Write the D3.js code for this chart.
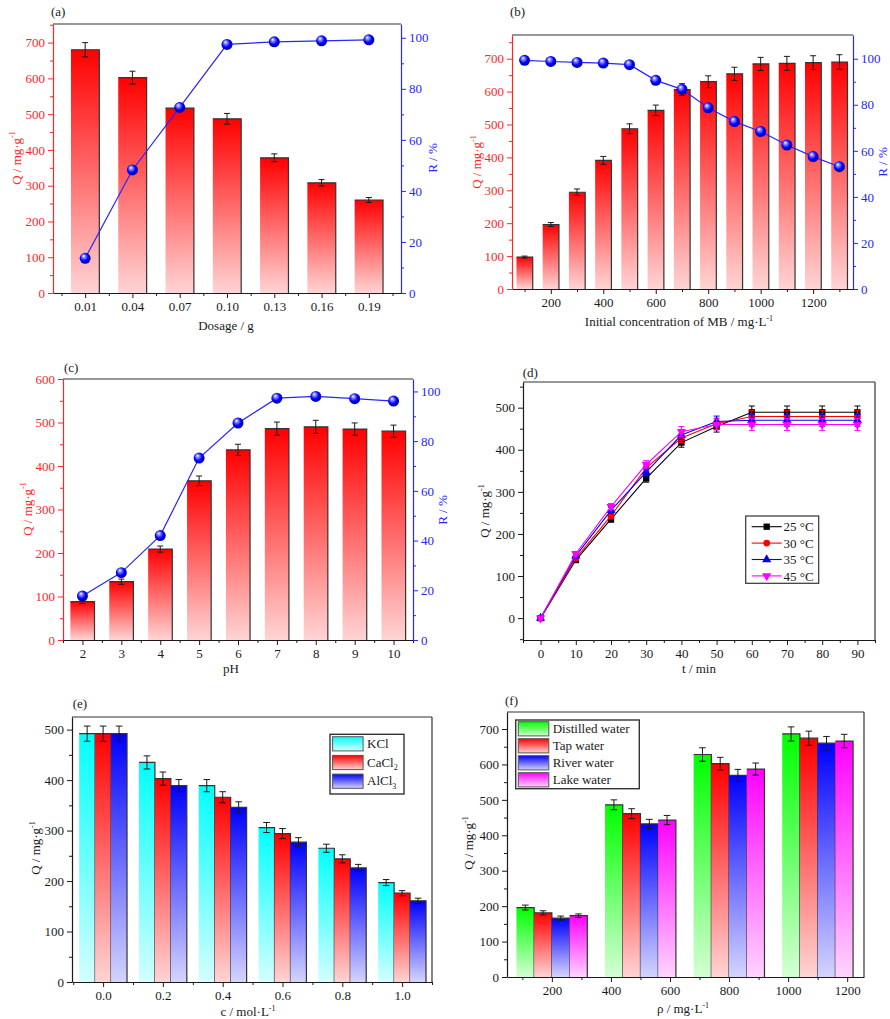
<!DOCTYPE html>
<html>
<head>
<meta charset="utf-8">
<script src="https://cdn.jsdelivr.net/npm/d3@7"></script>
<style>
  body { margin: 0; background: #fff; }
</style>
</head>
<body>
<svg id="fig" width="890" height="1019"></svg>
<script>
/* DATA */
// (a) effect of dosage
const dosage = ["0.01", "0.04", "0.07", "0.10", "0.13", "0.16", "0.19"];
const dosageQ = [680, 602, 517, 487, 378, 308, 260];
const dosageQErr = [20, 18, 8, 15, 11, 9, 7];
const dosageR = [13.6, 48.2, 72.7, 97.4, 98.4, 98.8, 99.2];

// (b) initial concentration of MB
const conc = [100, 200, 300, 400, 500, 600, 700, 800, 900, 1000, 1100, 1200, 1300];
const concQ = [97, 196, 294, 391, 487, 543, 606, 630, 654, 684, 686, 688, 690];
const concQErr = [3, 6, 10, 12, 15, 16, 18, 18, 20, 20, 21, 21, 22];
const concR = [99.3, 98.8, 98.4, 98.1, 97.4, 90.6, 86.7, 78.7, 72.7, 68.4, 62.5, 57.5, 53.1];

// (c) pH
const pH = [2, 3, 4, 5, 6, 7, 8, 9, 10];
const pHQ = [88, 134, 209, 366, 437, 486, 490, 485, 480];
const pHQErr = [4, 6, 7, 11, 13, 15, 15, 14, 14];
const pHR = [17.7, 27.1, 42.0, 73.2, 87.3, 97.3, 98.0, 97.1, 96.1];

// (d) contact time at four temperatures
const time = [0, 10, 20, 30, 40, 50, 60, 70, 80, 90];
const temps = ["25 °C", "30 °C", "35 °C", "45 °C"];
const q25 = [0, 138, 235, 332, 417, 455, 489, 489, 489, 489];
const q30 = [0, 142, 243, 357, 428, 462, 479, 479, 479, 479];
const q35 = [0, 148, 256, 347, 435, 467, 470, 470, 470, 470];
const q45 = [0, 153, 265, 365, 443, 460, 460, 460, 460, 460];
const e25 = [2, 5, 7, 9, 11, 13, 15, 15, 15, 15];
const e30 = [2, 5, 7, 9, 11, 13, 14, 14, 14, 14];
const e35 = [2, 5, 7, 9, 11, 13, 14, 14, 14, 14];
const e45 = [2, 5, 7, 9, 12, 13, 14, 14, 14, 14];

// (e) coexisting salts
const saltConc = [0.0, 0.2, 0.4, 0.6, 0.8, 1.0];
const salts = ["KCl", "CaCl2", "AlCl3"];
const kcl = [492, 435, 389, 306, 265, 197];
const cacl2 = [492, 403, 366, 294, 244, 176];
const alcl3 = [492, 389, 346, 277, 226, 161];
const kclErr = [15, 13, 12, 10, 8, 6];
const cacl2Err = [15, 13, 11, 10, 8, 5];
const alcl3Err = [15, 12, 11, 9, 7, 5];

// (f) real water samples
const waterConc = [200, 500, 800, 1100];
const waters = ["Distilled water", "Tap water", "River water", "Lake water"];
const distilled = [196, 486, 628, 686];
const tap = [181, 461, 602, 674];
const river = [166, 432, 569, 660];
const lake = [173, 443, 587, 666];
const distilledErr = [7, 14, 19, 20];
const tapErr = [6, 14, 18, 20];
const riverErr = [6, 13, 17, 19];
const lakeErr = [5, 13, 17, 19];

/* CONSTANTS */
const FONT = '"Liberation Serif", "Times New Roman", serif';
const RED = "#ff2626", BLUE = "#2626ff", INK = "#1a1a1a", EDGE = "#333";

const svg = d3.select("#fig");
const defs = svg.append("defs");

function vGrad(id, top, bottom) {
  const g = defs.append("linearGradient").attr("id", id)
    .attr("x1", 0).attr("y1", 0).attr("x2", 0).attr("y2", 1);
  g.append("stop").attr("offset", "0%").attr("stop-color", top);
  g.append("stop").attr("offset", "100%").attr("stop-color", bottom);
}
vGrad("gRed", "#ff0000", "#ffd4d4");
vGrad("gCyan", "#00ffff", "#d4ffff");
vGrad("gBlue", "#0000ff", "#d4d4ff");
vGrad("gGreen", "#00ff00", "#d4ffd4");
vGrad("gMag", "#ff00ff", "#ffd4ff");

const sph = defs.append("radialGradient").attr("id", "sphere")
  .attr("cx", "45%").attr("cy", "45%").attr("r", "60%")
  .attr("fx", "35%").attr("fy", "28%");
sph.append("stop").attr("offset", "0%").attr("stop-color", "#ffffff");
sph.append("stop").attr("offset", "22%").attr("stop-color", "#9090ff");
sph.append("stop").attr("offset", "60%").attr("stop-color", "#0000ff");
sph.append("stop").attr("offset", "100%").attr("stop-color", "#00009a");

/* HELPERS */
function styleAxis(g, color) {
  g.attr("font-family", FONT).attr("font-size", 13);
  g.select(".domain").attr("stroke", color).attr("stroke-width", 1.2);
  g.selectAll(".tick line").attr("stroke", color).attr("stroke-width", 1);
  g.selectAll(".tick text").attr("fill", color);
  return g;
}

function minorTicks(parent, axis, color) {
  const m = parent.append("g").call(axis.tickFormat("").tickSize(3).tickSizeOuter(0));
  m.select(".domain").remove();
  m.selectAll(".tick line").attr("stroke", color).attr("stroke-width", 1);
  return m;
}

// parts: strings or [string, "sup"|"sub"]
function addText(g, x, y, parts, opt = {}) {
  const size = opt.size || 13;
  const t = g.append("text")
    .attr("font-family", FONT).attr("font-size", size)
    .attr("fill", opt.color || INK)
    .attr("text-anchor", opt.anchor || "middle");
  if (opt.rotate) t.attr("transform", `translate(${x},${y}) rotate(-90)`);
  else t.attr("x", x).attr("y", y);
  let shift = 0;
  parts.forEach(p => {
    const [s, kind] = Array.isArray(p) ? p : [p, null];
    const want = kind === "sup" ? -size * 0.42 : kind === "sub" ? size * 0.28 : 0;
    t.append("tspan").attr("dy", want - shift)
      .attr("font-size", kind ? size * 0.62 : size).text(s);
    shift = want;
  });
  return t;
}

function errorBars(g, rows, xf, yf, vKey, eKey, color, cap) {
  g.append("g").attr("stroke", color).attr("stroke-width", 1).attr("fill", "none")
    .selectAll("path").data(rows).join("path")
    .attr("d", d => {
      const cx = xf(d), y1 = yf(d[vKey] + d[eKey]), y2 = yf(d[vKey] - d[eKey]);
      return `M${cx},${y1}V${y2}M${cx - cap},${y1}H${cx + cap}M${cx - cap},${y2}H${cx + cap}`;
    });
}

function frameLines(g, box, top, right) {
  if (top) g.append("line").attr("x1", box.l).attr("x2", box.r).attr("y1", box.t).attr("y2", box.t)
    .attr("stroke", EDGE).attr("stroke-width", 1.2);
  if (right) g.append("line").attr("x1", box.r).attr("x2", box.r).attr("y1", box.t).attr("y2", box.b)
    .attr("stroke", EDGE).attr("stroke-width", 1.2);
}

/* BAR + REMOVAL-RATE PANELS (a, b, c) */
function dualPanel(p) {
  const box = p.box;
  const g = svg.append("g");
  const x = d3.scaleLinear().domain(p.xDomain).range([box.l, box.r]);
  const yQ = d3.scaleLinear().domain(p.qDomain).range([box.b, box.t]);
  const yR = d3.scaleLinear().domain(p.rDomain).range([box.b, box.t]);
  const rows = p.xs.map((v, i) => ({ x: v, q: p.q[i], e: p.err[i], r: p.r[i] }));
  const hw = p.barW / 2;

  frameLines(g, box, true, false);

  g.selectAll(".bar").data(rows).join("rect").attr("class", "bar")
    .attr("x", d => x(d.x - hw)).attr("width", d => x(d.x + hw) - x(d.x - hw))
    .attr("y", d => yQ(d.q)).attr("height", d => yQ(0) - yQ(d.q))
    .attr("fill", "url(#gRed)");
  g.selectAll(".edge").data(rows).join("path").attr("class", "edge")
    .attr("d", d => `M${x(d.x - hw)},${yQ(d.q)}H${x(d.x + hw)}V${yQ(0)}`)
    .attr("fill", "none").attr("stroke", EDGE).attr("stroke-width", 1.2);
  errorBars(g, rows, d => x(d.x), yQ, "q", "e", INK, 3);

  g.append("path").datum(rows)
    .attr("d", d3.line().x(d => x(d.x)).y(d => yR(d.r)))
    .attr("fill", "none").attr("stroke", BLUE).attr("stroke-width", 1.2);
  g.selectAll(".ball").data(rows).join("circle").attr("class", "ball")
    .attr("cx", d => x(d.x)).attr("cy", d => yR(d.r)).attr("r", 5.5)
    .attr("fill", "url(#sphere)");

  // axes
  const gx = g.append("g").attr("transform", `translate(0,${box.b})`);
  gx.call(d3.axisBottom(x).tickValues(p.xTicks).tickFormat(p.xFormat)
    .tickSize(5).tickPadding(4).tickSizeOuter(0));
  minorTicks(gx, d3.axisBottom(x).tickValues(p.xMinor), INK);
  styleAxis(gx, INK);

  const gl = g.append("g").attr("transform", `translate(${box.l},0)`);
  gl.call(d3.axisLeft(yQ).tickValues(d3.range(0, p.qMax + 1, 100))
    .tickSize(5).tickPadding(3).tickSizeOuter(0));
  minorTicks(gl, d3.axisLeft(yQ).tickValues(d3.range(50, p.qDomain[1], 100)), RED);
  styleAxis(gl, RED);

  const gr = g.append("g").attr("transform", `translate(${box.r},0)`);
  gr.call(d3.axisRight(yR).tickValues(d3.range(0, 101, 20))
    .tickSize(5).tickPadding(3).tickSizeOuter(0));
  minorTicks(gr, d3.axisRight(yR).tickValues(d3.range(10, 100, 20)), BLUE);
  styleAxis(gr, BLUE);

  // texts
  addText(g, p.tag[0], p.tag[1], [p.tagText], { anchor: "start" });
  addText(g, p.qTitle[0], p.qTitle[1], ["Q / mg·g", ["-1", "sup"]], { rotate: true, color: RED });
  addText(g, p.rTitle[0], p.rTitle[1], ["R / %"], { rotate: true, color: BLUE });
  addText(g, p.xTitle[0], p.xTitle[1], p.xTitleParts);
}

dualPanel({
  box: { l: 53, t: 24, r: 401, b: 293 },
  xs: d3.range(dosage.length), q: dosageQ, err: dosageQErr, r: dosageR,
  xDomain: [-0.68, 6.68], barW: 0.6,
  xTicks: d3.range(dosage.length), xFormat: i => dosage[i],
  xMinor: d3.range(-0.5, dosage.length, 1),
  qDomain: [0, 752], qMax: 700, rDomain: [0, 105.4],
  tag: [51, 16], tagText: "(a)",
  qTitle: [20.5, 158], rTitle: [437, 158],
  xTitle: [226, 330], xTitleParts: ["Dosage / g"]
});

dualPanel({
  box: { l: 512, t: 35, r: 853, b: 289 },
  xs: conc, q: concQ, err: concQErr, r: concR,
  xDomain: [52, 1352], barW: 62,
  xTicks: d3.range(200, 1201, 200), xFormat: d3.format("d"),
  xMinor: d3.range(100, 1301, 200),
  qDomain: [0, 772], qMax: 700, rDomain: [0, 110.3],
  tag: [510, 16], tagText: "(b)",
  qTitle: [481, 162], rTitle: [887, 162],
  xTitle: [679, 326], xTitleParts: ["Initial concentration of MB / mg·L", ["-1", "sup"]]
});

dualPanel({
  box: { l: 63, t: 379, r: 413, b: 640 },
  xs: pH, q: pHQ, err: pHQErr, r: pHR,
  xDomain: [1.5, 10.5], barW: 0.62,
  xTicks: pH, xFormat: d3.format("d"),
  xMinor: d3.range(1.5, 10.6, 1),
  qDomain: [0, 600], qMax: 600, rDomain: [0, 105],
  tag: [64, 372], tagText: "(c)",
  qTitle: [31.5, 509], rTitle: [447, 510],
  xTitle: [231, 673], xTitleParts: ["pH"]
});

/* CONTACT TIME PANEL (d) */
(function timePanel() {
  const box = { l: 523, t: 382, r: 875, b: 640 };
  const g = svg.append("g");
  const x = d3.scaleLinear().domain([-5, 95]).range([box.l, box.r]);
  const y = d3.scaleLinear().domain([-52, 561]).range([box.b, box.t]);
  frameLines(g, box, true, true);

  const series = [
    { name: temps[0], q: q25, e: e25, color: "#000000", shape: d3.symbolSquare, size: 40 },
    { name: temps[1], q: q30, e: e30, color: "#ff0000", shape: d3.symbolCircle, size: 36 },
    { name: temps[2], q: q35, e: e35, color: "#0000ff", shape: d3.symbolTriangle, size: 36 },
    { name: temps[3], q: q45, e: e45, color: "#ff00ff", shape: d3.symbolTriangle, size: 36, flip: true }
  ];
  const line = d3.line().x(d => x(d.t)).y(d => y(d.q));

  series.forEach(s => {
    const rows = time.map((t, i) => ({ t, q: s.q[i], e: s.e[i] }));
    const sg = g.append("g");
    sg.append("path").datum(rows).attr("d", line)
      .attr("fill", "none").attr("stroke", s.color).attr("stroke-width", 1.1);
    errorBars(sg, rows, d => x(d.t), y, "q", "e", s.color, 3);
    sg.selectAll("path.mk").data(rows).join("path").attr("class", "mk")
      .attr("d", d3.symbol().type(s.shape).size(s.size))
      .attr("transform", d => `translate(${x(d.t)},${y(d.q)})${s.flip ? " rotate(180)" : ""}`)
      .attr("fill", s.color);
  });

  const gx = g.append("g").attr("transform", `translate(0,${box.b})`);
  gx.call(d3.axisBottom(x).tickValues(time).tickSize(5).tickPadding(4).tickSizeOuter(0));
  minorTicks(gx, d3.axisBottom(x).tickValues(d3.range(-5, 96, 10)), INK);
  styleAxis(gx, INK);

  const gy = g.append("g").attr("transform", `translate(${box.l},0)`);
  gy.call(d3.axisLeft(y).tickValues(d3.range(0, 501, 100)).tickSize(5).tickPadding(3).tickSizeOuter(0));
  minorTicks(gy, d3.axisLeft(y).tickValues(d3.range(-50, 560, 100)), INK);
  styleAxis(gy, INK);

  // legend
  const lg = g.append("g").attr("transform", "translate(745.7,516)");
  lg.append("rect").attr("width", 73).attr("height", 67.3)
    .attr("fill", "#fff").attr("stroke", EDGE).attr("stroke-width", 1.2);
  series.forEach((s, i) => {
    const row = lg.append("g").attr("transform", `translate(0,${10.7 + i * 16.4})`);
    row.append("line").attr("x1", 6).attr("x2", 36).attr("stroke", s.color).attr("stroke-width", 1.1);
    row.append("path").attr("d", d3.symbol().type(s.shape).size(s.size))
      .attr("transform", `translate(21,0)${s.flip ? " rotate(180)" : ""}`).attr("fill", s.color);
    addText(row, 37.8, 4.6, [s.name], { anchor: "start" });
  });

  addText(g, 522.7, 377, ["(d)"], { anchor: "start" });
  addText(g, 489, 511, ["Q / mg·g", ["-1", "sup"]], { rotate: true });
  addText(g, 699, 673, ["t / min"]);
})();

/* GROUPED BAR PANELS (e, f) */
function groupPanel(p) {
  const box = p.box;
  const g = svg.append("g");
  const x = d3.scaleLinear().domain(p.xDomain).range([box.l, box.r]);
  const y = d3.scaleLinear().domain(p.yDomain).range([box.b, box.t]);
  const n = p.series.length;
  const bw = p.groupW / n;
  frameLines(g, box, true, true);

  p.series.forEach((s, k) => {
    const rows = p.xs.map((v, i) => ({ x: v - p.groupW / 2 + bw * (k + 0.5), q: s.vals[i], e: s.errs[i] }));
    g.append("g").selectAll("rect").data(rows).join("rect")
      .attr("x", d => x(d.x - bw / 2)).attr("width", d => x(d.x + bw / 2) - x(d.x - bw / 2))
      .attr("y", d => y(d.q)).attr("height", d => y(0) - y(d.q))
      .attr("fill", `url(#${s.grad})`);
    g.append("g").selectAll("path").data(rows).join("path")
      .attr("d", d => `M${x(d.x - bw / 2)},${y(d.q)}H${x(d.x + bw / 2)}V${y(0)}`)
      .attr("fill", "none").attr("stroke", EDGE).attr("stroke-width", 1.2);
    errorBars(g, rows, d => x(d.x), y, "q", "e", INK, 3.3);
  });

  const gx = g.append("g").attr("transform", `translate(0,${box.b})`);
  gx.call(d3.axisBottom(x).tickValues(p.xTicks).tickFormat(p.xFormat)
    .tickSize(5).tickPadding(4).tickSizeOuter(0));
  minorTicks(gx, d3.axisBottom(x).tickValues(p.xMinor), INK);
  styleAxis(gx, INK);

  const gy = g.append("g").attr("transform", `translate(${box.l},0)`);
  gy.call(d3.axisLeft(y).tickValues(d3.range(0, p.yMax + 1, 100)).tickSize(5).tickPadding(3).tickSizeOuter(0));
  minorTicks(gy, d3.axisLeft(y).tickValues(d3.range(50, p.yDomain[1], 100)), INK);
  styleAxis(gy, INK);

  // legend
  const L = p.legend;
  const lg = g.append("g").attr("transform", `translate(${L.x},${L.y})`);
  lg.append("rect").attr("width", L.w).attr("height", L.h)
    .attr("fill", "#fff").attr("stroke", EDGE).attr("stroke-width", 1.4);
  p.series.forEach((s, k) => {
    const top = L.pad + k * L.step;
    lg.append("rect").attr("x", 2.6).attr("y", top).attr("width", 30.5).attr("height", 14.2)
      .attr("fill", `url(#${s.grad})`).attr("stroke", "#555").attr("stroke-width", 1);
    addText(lg, 37, top + 11.4, s.label, { anchor: "start" });
  });

  addText(g, p.tag[0], p.tag[1], [p.tagText], { anchor: "start" });
  addText(g, p.yTitle[0], p.yTitle[1], ["Q / mg·g", ["-1", "sup"]], { rotate: true });
  addText(g, p.xTitle[0], p.xTitle[1], p.xTitleParts);
}

groupPanel({
  box: { l: 72, t: 717, r: 432, b: 982 },
  xs: saltConc, groupW: 0.16,
  xDomain: [-0.104, 1.1], yDomain: [0, 525], yMax: 500,
  xTicks: saltConc, xFormat: d3.format(".1f"), xMinor: d3.range(-0.1, 1.11, 0.2),
  series: [
    { vals: kcl, errs: kclErr, grad: "gCyan", label: [salts[0]] },
    { vals: cacl2, errs: cacl2Err, grad: "gRed", label: ["CaCl", ["2", "sub"]] },
    { vals: alcl3, errs: alcl3Err, grad: "gBlue", label: ["AlCl", ["3", "sub"]] }
  ],
  legend: { x: 330, y: 734.3, w: 74, h: 59.7, pad: 2.4, step: 18.7 },
  tag: [72.7, 708], tagText: "(e)",
  yTitle: [40, 848],
  xTitle: [248, 1016], xTitleParts: ["c / mol·L", ["-1", "sup"]]
});

groupPanel({
  box: { l: 507, t: 712, r: 864, b: 977 },
  xs: waterConc, groupW: 240,
  xDomain: [48, 1257], yDomain: [0, 748], yMax: 700,
  xTicks: d3.range(200, 1201, 200), xFormat: d3.format("d"), xMinor: d3.range(100, 1201, 200),
  series: [
    { vals: distilled, errs: distilledErr, grad: "gGreen", label: [waters[0]] },
    { vals: tap, errs: tapErr, grad: "gRed", label: [waters[1]] },
    { vals: river, errs: riverErr, grad: "gBlue", label: [waters[2]] },
    { vals: lake, errs: lakeErr, grad: "gMag", label: [waters[3]] }
  ],
  legend: { x: 515.7, y: 720, w: 123.6, h: 68.7, pad: 1.7, step: 17 },
  tag: [505, 705], tagText: "(f)",
  yTitle: [473, 843],
  xTitle: [683, 1013], xTitleParts: ["ρ / mg·L", ["-1", "sup"]]
});
</script>
</body>
</html>
